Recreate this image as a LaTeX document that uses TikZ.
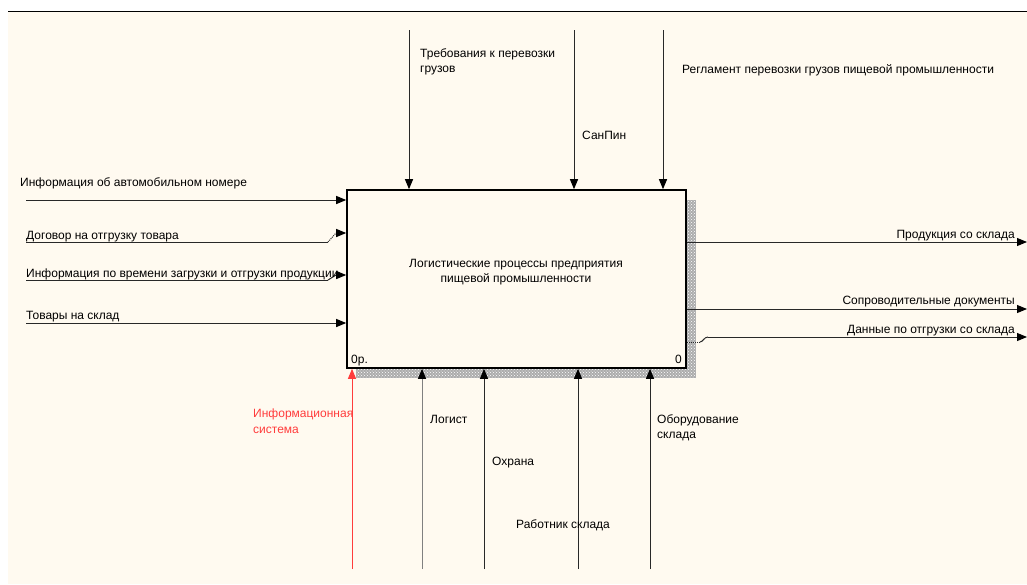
\documentclass[tikz,border=0pt]{standalone}
\usepackage{fontspec}
\setmainfont{Liberation Sans}
\usetikzlibrary{arrows.meta,patterns}
\definecolor{cream}{RGB}{255,250,240}
\definecolor{wire}{RGB}{40,40,40}
\definecolor{wiregray}{RGB}{128,128,128}
\definecolor{infored}{RGB}{255,60,60}
\tikzset{
  lbl/.style={font=\fontsize{12}{15}\selectfont, inner sep=0pt, align=left},
  arr/.style={draw=wire, line width=1pt, -{Triangle[length=10pt,width=8pt,fill=black,color=black]}},
  lead/.style={draw=wire, line width=1pt}
}
\begin{document}
\begin{tikzpicture}[x=1pt,y=-1pt]
\useasboundingbox (0,0) rectangle (1027,584);
% sheet
\fill[white] (0,0) rectangle (1027,584);
\fill[cream] (8,11) rectangle (1027,584);
\draw[line width=1pt] (8,11) -- (1027,11);

% shadow of the activity box
\fill[gray!65] (686,200) rectangle (696,378);
\fill[gray!65] (356,368) rectangle (696,378);
\fill[pattern=crosshatch dots, pattern color=white] (686,200) rectangle (696,378);
\fill[pattern=crosshatch dots, pattern color=white] (356,368) rectangle (686,378);

% activity box
\node (box) at (516.5,279) [draw, fill=cream, line width=1.6pt, minimum width=339pt, minimum height=178pt, inner sep=0pt] {};
\node[lbl, align=center, anchor=center] (boxtxt) at (516,272) {Логистические процессы предприятия\\пищевой промышленности};
\node[lbl, anchor=base west] (boxnum) at (351,363) {0р.};
\node[lbl, anchor=base east] (boxnode) at (682,363) {0};

% controls (top)
\coordinate (c1) at (409,30);
\coordinate (c2) at (574,30);
\coordinate (c3) at (663,30);
\draw[arr] (c1) -- (c1 |- box.north);
\draw[arr] (c2) -- (c2 |- box.north);
\draw[arr] (c3) -- (c3 |- box.north);
\node[lbl, anchor=base west] (lc1) at (420,57) {Требования к перевозки};
\node[lbl, anchor=base west] (lc1b) at (420,72) {грузов};
\node[lbl, anchor=base west] (lc2) at (582,139) {СанПин};
\node[lbl, anchor=base west] (lc3) at (682,73) {Регламент перевозки грузов пищевой промышленности};

% inputs (left)
\coordinate (i1) at (26,200);
\coordinate (i2) at (26,242);
\coordinate (i3) at (26,280);
\coordinate (i4) at (26,323);
\draw[arr] (i1) -- (i1 -| box.west);
\draw[lead] (i2) -- (328,242);
\draw[lead, densely dotted] (328,242) -- (336,233);
\draw[arr] (336,233) -- (box.west |- 0,233);
\draw[lead] (i3) -- (328,280);
\draw[lead] (328,280) -- (336,275);
\draw[arr] (336,275) -- (box.west |- 0,275);
\draw[arr] (i4) -- (i4 -| box.west);
\node[lbl, anchor=base west] (li1) at (20,186) {Информация об автомобильном номере};
\node[lbl, anchor=base west] (li2) at (26,239) {Договор на отгрузку товара};
\node[lbl, anchor=base west] (li3) at (26,277) {Информация по времени загрузки и отгрузки продукции};
\node[lbl, anchor=base west] (li4) at (26,319) {Товары на склад};

% outputs (right)
\coordinate (o1) at (1027,242);
\coordinate (o2) at (1027,309);
\coordinate (o3) at (1027,337);
\draw[arr] (box.east |- o1) -- (o1);
\draw[arr] (box.east |- o2) -- (o2);
\draw[lead, densely dotted] (box.east |- 0,342) -- (700,342);
\draw[lead] (700,342) .. controls (703,342) and (704,337) .. (708,337);
\draw[arr] (708,337) -- (o3);
\node[lbl, anchor=base east] (lo1) at (1015,238) {Продукция со склада};
\node[lbl, anchor=base east] (lo2) at (1015,304) {Сопроводительные документы};
\node[lbl, anchor=base east] (lo3) at (1015,333) {Данные по отгрузки со склада};

% mechanisms (bottom)
\coordinate (m1) at (352,569);
\coordinate (m2) at (422,569);
\coordinate (m3) at (484,569);
\coordinate (m4) at (578,569);
\coordinate (m5) at (650,569);
\draw[draw=infored, line width=1pt, -{Triangle[length=10pt,width=8pt,fill=infored,color=infored]}] (m1) -- (m1 |- box.south);
\draw[arr, draw=wiregray] (m2) -- (m2 |- box.south);
\draw[arr] (m3) -- (m3 |- box.south);
\draw[arr] (m4) -- (m4 |- box.south);
\draw[arr] (m5) -- (m5 |- box.south);
\node[lbl, anchor=base west, text=infored] (lm1) at (253,417) {Информационная};
\node[lbl, anchor=base west, text=infored] (lm1b) at (253,433) {система};
\node[lbl, anchor=base west] (lm2) at (430,423) {Логист};
\node[lbl, anchor=base west] (lm3) at (492,465) {Охрана};
\node[lbl, anchor=base west] (lm4) at (516,528) {Работник склада};
\node[lbl, anchor=base west] (lm5) at (657,423) {Оборудование};
\node[lbl, anchor=base west] (lm5b) at (657,438) {склада};
\end{tikzpicture}
\end{document}
